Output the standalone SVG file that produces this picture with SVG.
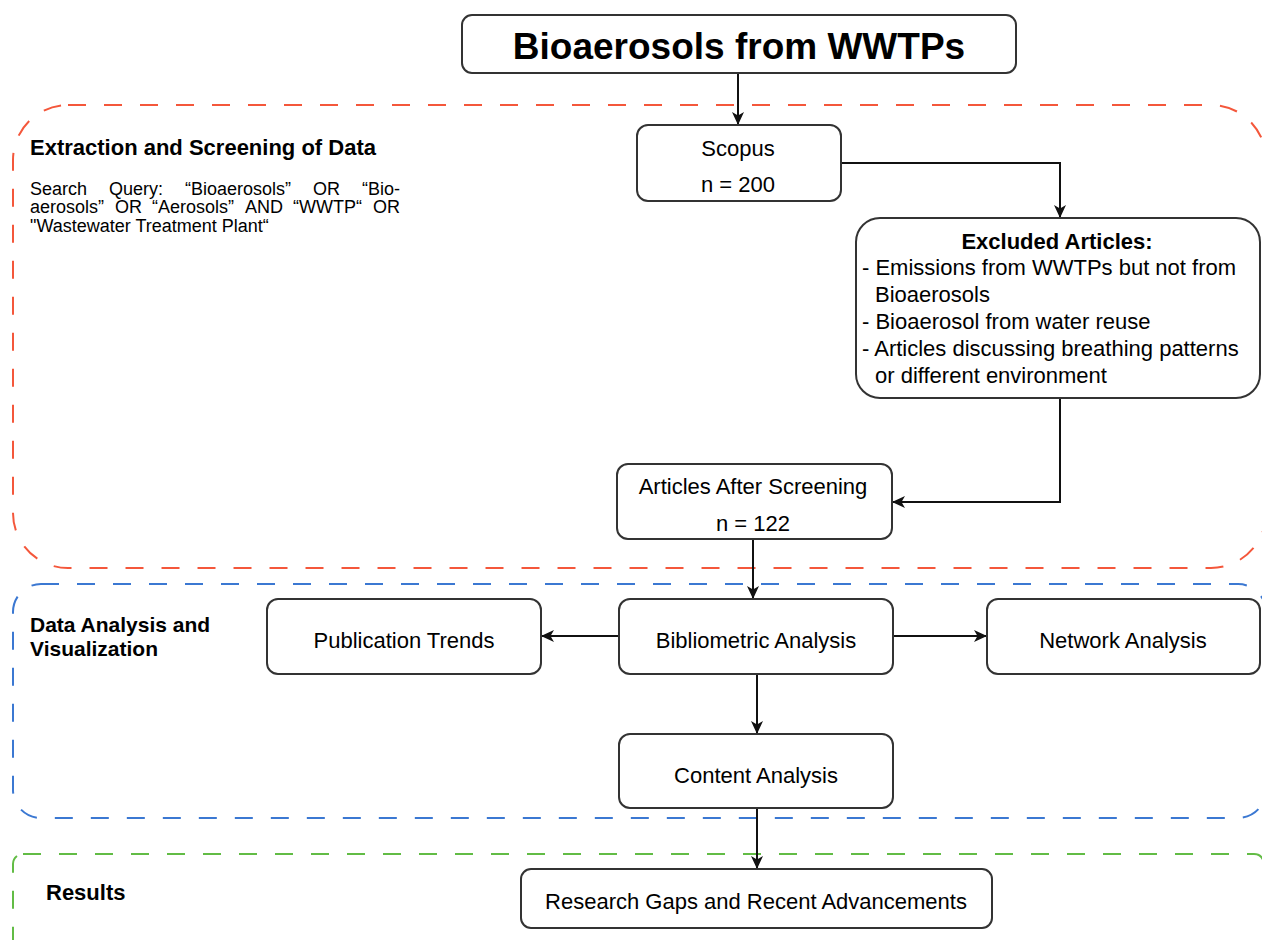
<svg xmlns="http://www.w3.org/2000/svg" width="1262" height="940" viewBox="0 0 1262 940">
<defs>
<style>
.box{fill:#fff;stroke:#333;stroke-width:2}
.t{font-family:"Liberation Sans",Arial,sans-serif;font-size:22px;fill:#000}
.c{text-anchor:middle}
.b{font-weight:bold}
.q{font-family:"Liberation Sans",Arial,sans-serif;font-size:18px;fill:#000}
.region{fill:none;stroke-width:2;stroke-dasharray:18 18}
.conn{fill:none;stroke:#111;stroke-width:2;marker-end:url(#arr)}
</style>
<marker id="arr" markerUnits="userSpaceOnUse" markerWidth="14" markerHeight="12" refX="13" refY="6" orient="auto">
<path d="M0,0 L13,6 L0,12 L3.5,6 z" fill="#111"/>
</marker>
</defs>
<rect width="1262" height="940" fill="#fff"/>

<g id="regions">
<rect class="region" x="13" y="105" width="1253" height="463" rx="55" ry="55" stroke="#F4573B"/>
<rect class="region" x="13" y="584" width="1253" height="234" rx="28" ry="28" stroke="#3B78D2"/>
<rect class="region" x="13" y="854" width="1251" height="120" rx="10" ry="10" stroke="#62BC45"/>
</g>

<g id="section-labels">
<text class="t b" x="30" y="155">Extraction and Screening of Data</text>
<text class="q" y="195"><tspan x="30">Search</tspan><tspan x="109">Query:</tspan><tspan x="185">“Bioaerosols”</tspan><tspan x="313">OR</tspan><tspan x="400" text-anchor="end">“Bio-</tspan></text>
<text class="q" y="213"><tspan x="30">aerosols”</tspan><tspan x="115">OR</tspan><tspan x="152">“Aerosols”</tspan><tspan x="245">AND</tspan><tspan x="293">“WWTP“</tspan><tspan x="400" text-anchor="end">OR</tspan></text>
<text class="q" x="30" y="232">"Wastewater Treatment Plant“</text>
<text class="t b" x="30" y="632" style="font-size:21px">Data Analysis and</text>
<text class="t b" x="30" y="656" style="font-size:21px">Visualization</text>
<text class="t b" x="46" y="900">Results</text>
</g>

<g id="connectors">
<path class="conn" d="M738,73 V125"/>
<path class="conn" d="M841,163 H1060 V218"/>
<path class="conn" d="M1060,398 V502 H892"/>
<path class="conn" d="M753,539 V599"/>
<path class="conn" d="M619,636 H541"/>
<path class="conn" d="M893,636 H987"/>
<path class="conn" d="M757,674 V734"/>
<path class="conn" d="M757,808 V869"/>
</g>

<g id="title">
<rect class="box" x="462" y="15" width="554" height="58" rx="10"/>
<text class="t b c" x="739" y="59" style="font-size:37px">Bioaerosols from WWTPs</text>
</g>

<g id="scopus">
<rect class="box" x="637" y="125" width="204" height="76" rx="11"/>
<text class="t c" x="738" y="156">Scopus</text>
<text class="t c" x="738" y="192">n = 200</text>
</g>

<g id="excluded">
<rect class="box" x="856" y="218" width="404" height="180" rx="24"/>
<text class="t b c" x="1057" y="249">Excluded Articles:</text>
<text class="t" x="862" y="275">- Emissions from WWTPs but not from</text>
<text class="t" x="875" y="302">Bioaerosols</text>
<text class="t" x="862" y="329">- Bioaerosol from water reuse</text>
<text class="t" x="862" y="356">- Articles discussing breathing patterns</text>
<text class="t" x="875" y="383">or different environment</text>
</g>

<g id="screening">
<rect class="box" x="617" y="464" width="275" height="75" rx="11"/>
<text class="t c" x="753" y="494">Articles After Screening</text>
<text class="t c" x="753" y="531">n = 122</text>
</g>

<g id="publication">
<rect class="box" x="267" y="599" width="274" height="75" rx="11"/>
<text class="t c" x="404" y="648">Publication Trends</text>
</g>

<g id="bibliometric">
<rect class="box" x="619" y="599" width="274" height="75" rx="11"/>
<text class="t c" x="756" y="648">Bibliometric Analysis</text>
</g>

<g id="network">
<rect class="box" x="987" y="599" width="273" height="75" rx="11"/>
<text class="t c" x="1123" y="648">Network Analysis</text>
</g>

<g id="content">
<rect class="box" x="619" y="734" width="274" height="74" rx="11"/>
<text class="t c" x="756" y="783">Content Analysis</text>
</g>

<g id="research">
<rect class="box" x="521" y="869" width="471" height="59" rx="10"/>
<text class="t c" x="756" y="909">Research Gaps and Recent Advancements</text>
</g>
</svg>
